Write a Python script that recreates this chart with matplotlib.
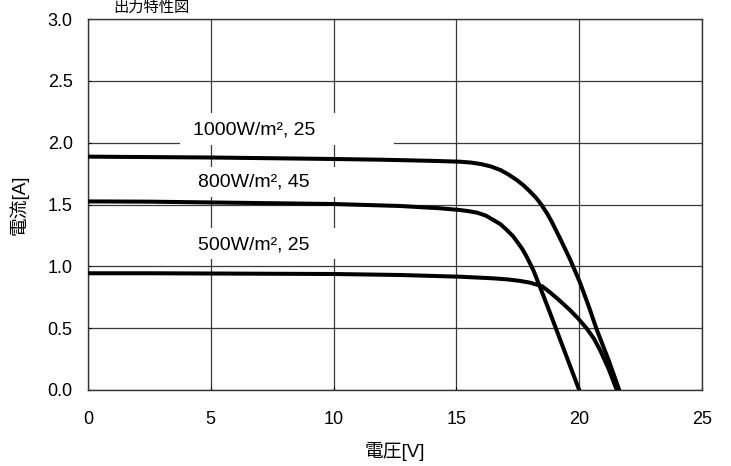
import matplotlib
matplotlib.use("Agg")
import matplotlib.pyplot as plt
from matplotlib.patches import Rectangle

plt.rcParams['font.family'] = ['Liberation Sans', 'Noto Sans CJK JP', 'DejaVu Sans']

# 1000W/m2, 25
v_1000 = [0, 5, 10, 12, 14, 15.15, 15.6, 16.0, 16.4, 16.8, 17.1, 17.46, 17.75, 18.0, 18.25,
          18.47, 18.7, 18.88, 19.22, 19.62, 20.03, 20.4, 20.71, 21.2, 21.63]
i_1000 = [1.887, 1.88, 1.868, 1.862, 1.853, 1.846, 1.839, 1.827, 1.808, 1.778, 1.745, 1.698, 1.652,
          1.604, 1.553, 1.496, 1.425, 1.361, 1.226, 1.06, 0.87, 0.67, 0.49, 0.24, 0.0]

# 800W/m2, 45
v_800 = [0, 2.5, 10, 12.7, 14.3, 15.15, 15.5, 15.84, 16.2, 16.5, 16.8, 17.05, 17.3, 17.52,
         17.7, 17.86, 18.13, 18.4, 18.8, 19.2, 19.6, 20.0]
i_800 = [1.525, 1.523, 1.504, 1.488, 1.47, 1.455, 1.446, 1.434, 1.41, 1.375, 1.34, 1.294, 1.245,
         1.186, 1.135, 1.078, 0.97, 0.835, 0.63, 0.42, 0.21, 0.0]

# 500W/m2, 25
v_500 = [0, 2.5, 10, 12.7, 15.15, 16.5, 17.1, 17.59, 18.0, 18.5, 18.81, 19.22, 19.62, 19.95,
         20.3, 20.6, 20.85, 21.2, 21.53]
i_500 = [0.944, 0.944, 0.938, 0.93, 0.916, 0.903, 0.894, 0.882, 0.868, 0.838, 0.79, 0.72, 0.647,
         0.58, 0.499, 0.415, 0.323, 0.17, 0.0]

labels = ['1000W/m², 25', '800W/m², 45', '500W/m², 25']
label_y = [2.10, 1.68, 1.17]
box_y = [(1.98, 2.24), (1.56, 1.80), (1.06, 1.31)]

fig = plt.figure(figsize=(7.31, 4.66), dpi=100)
ax = fig.add_axes([88 / 731, 76 / 466, 614 / 731, 371 / 466])

ax.set_xlim(0, 25)
ax.set_ylim(0, 3.0)
ax.set_xticks([0, 5, 10, 15, 20, 25])
ax.set_yticks([0, 0.5, 1.0, 1.5, 2.0, 2.5, 3.0])
ax.set_yticklabels([f'{t:.1f}' for t in ax.get_yticks()])
ax.grid(True, color='#3a3a3a', linewidth=0.9, zorder=0)
ax.set_axisbelow(True)
ax.tick_params(axis='both', direction='in', length=2, labelsize=13)
ax.tick_params(axis='x', pad=15)
ax.tick_params(axis='y', pad=11)
for s in ax.spines.values():
    s.set_color('#333333')
    s.set_linewidth(1.0)

# white label boxes hide the grid behind the text
for (y0, y1) in box_y:
    ax.add_patch(Rectangle((3.75, y0), 8.7, y1 - y0, facecolor='white',
                           edgecolor='none', zorder=1))

for lab, y in zip(labels, label_y):
    ax.text(6.75, y, lab, ha='center', va='center', fontsize=14, zorder=2)

for v, i in [(v_1000, i_1000), (v_800, i_800), (v_500, i_500)]:
    ax.plot(v, i, color='black', linewidth=2.9, solid_joinstyle='round', zorder=3)

ax.set_xlabel('電圧[V]', fontsize=13.5, labelpad=10)
ax.set_ylabel('電流[A]', fontsize=13.5, labelpad=14)

fig.text(151 / 731, 1 - 1 / 466, '出力特性図', ha='center', va='top', fontsize=11)

fig.savefig('out.png', dpi=100)
